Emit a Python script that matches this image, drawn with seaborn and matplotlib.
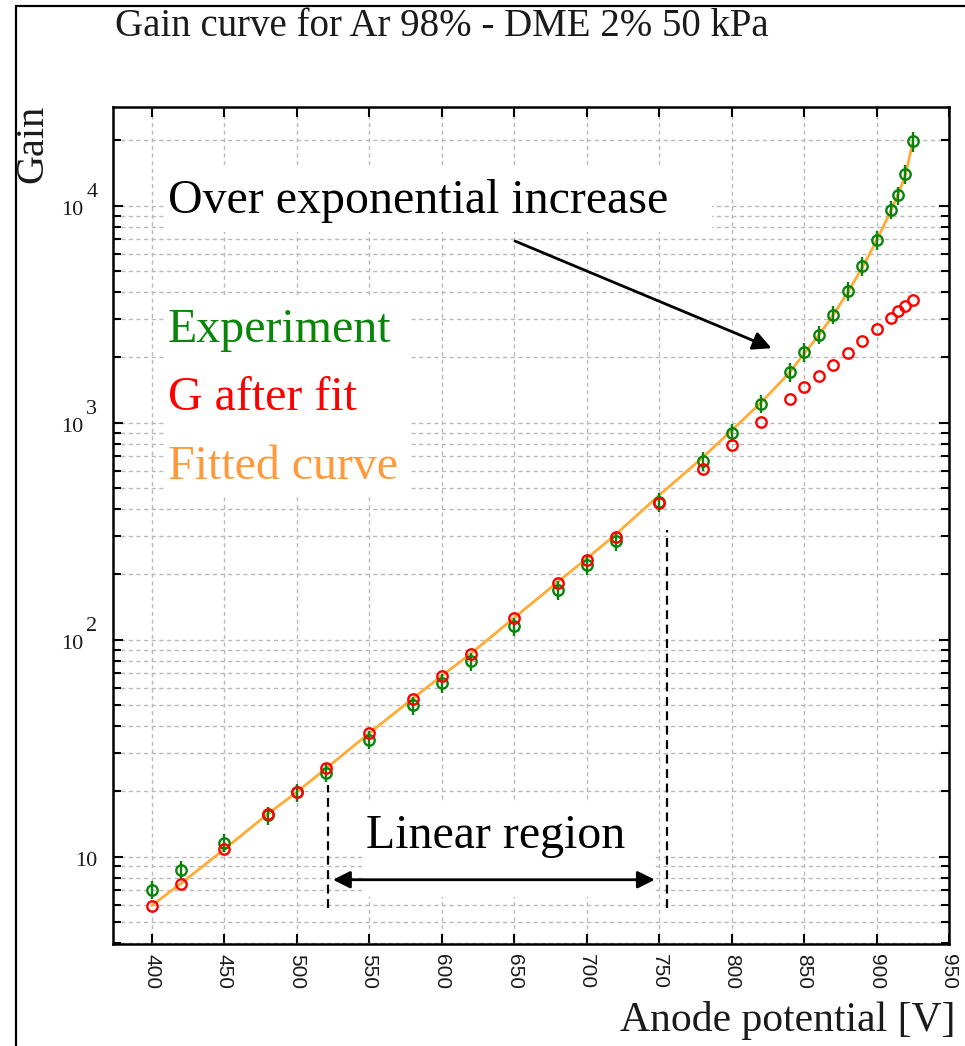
import matplotlib
matplotlib.use("Agg")
import matplotlib.pyplot as plt
from matplotlib.lines import Line2D
from matplotlib.patches import Rectangle
from matplotlib.ticker import MultipleLocator, LogLocator, NullFormatter
import seaborn as sns

# ---- data -------------------------------------------------------------
voltage = [400, 420, 450, 480, 500, 520, 550, 580, 600, 620, 650, 680, 700,
           720, 750, 780, 800, 820, 840, 850, 860, 870, 880, 890, 900, 910,
           915, 920, 925]
gain_exp = [7.05, 8.7, 11.6, 15.5, 19.8, 24.4, 34.6, 49.7, 63.1, 79.4, 115,
            169, 220, 284, 432, 664, 899, 1225, 1706, 2123, 2545, 3150, 4055,
            5250, 6965, 9590, 11150, 14030, 19770]
gain_err = [0.7, 0.85, 1.1, 1.5, 1.9, 2.4, 3.4, 4.9, 6.2, 7.8, 11, 17, 22, 28,
            43, 66, 88, 120, 170, 210, 250, 310, 400, 520, 690, 950, 1100,
            1400, 2000]
gain_corr = [5.9, 7.48, 10.8, 15.7, 19.8, 25.6, 37.2, 53.3, 67.8, 86.1, 126,
             182, 232, 297, 427, 614, 792, 1005, 1285, 1462, 1648, 1849, 2096,
             2382, 2704, 3033, 3258, 3437, 3664]
curve_v = [400, 420, 450, 480, 500, 520, 550, 580, 600, 620, 650, 680, 700,
           720, 750, 780, 800, 820, 840, 850, 860, 870, 880, 890, 900, 910,
           915, 920, 925]
curve_gain = [5.95, 7.5, 10.8, 15.7, 19.8, 25.4, 37.0, 53.5, 68, 86, 126, 184,
              236, 305, 462, 690, 920, 1230, 1700, 2080, 2520, 3120, 3980,
              5150, 6900, 9500, 11300, 13900, 19500]
x_ticks = [400, 450, 500, 550, 600, 650, 700, 750, 800, 850, 900, 950]
y_decades = [1, 2, 3, 4]

GREEN = "#0a840a"
RED = "#ff0000"
ORANGE_LINE = "#ffab35"
ORANGE_TEXT = "#ff9a3c"
GRID = "#b9b9b9"
SERIF = "Liberation Serif"
SANS = "Liberation Sans"

sns.set_theme(style="ticks")
plt.rcParams["font.family"] = [SERIF, "DejaVu Serif"]

fig = plt.figure(figsize=(9.65, 10.46), dpi=100)
ax = fig.add_axes([0.1174, 0.0972, 0.8660, 0.8002])
ax.set_yscale("log")
ax.set_xlim(373.5, 950)
ax.set_ylim(3.94, 28400)

# fitted curve, measurements with errors, corrected gain
sns.lineplot(x=curve_v, y=curve_gain, color=ORANGE_LINE, lw=2.0,
             errorbar=None, ax=ax, zorder=3)
ax.errorbar(voltage, gain_exp, yerr=gain_err, fmt="none", ecolor=GREEN,
            elinewidth=1.7, capsize=0, zorder=4)
sns.lineplot(x=voltage, y=gain_exp, linestyle="", marker="o", ms=7.5,
             mfc="none", mec=GREEN, mew=1.7, errorbar=None, ax=ax, zorder=5)
sns.lineplot(x=voltage, y=gain_corr, linestyle="", marker="o", ms=7.5,
             mfc="none", mec=RED, mew=1.7, errorbar=None, ax=ax, zorder=6)

# ticks and grid
ax.xaxis.set_major_locator(MultipleLocator(50))
ax.yaxis.set_major_locator(LogLocator(base=10, numticks=10))
ax.yaxis.set_minor_locator(LogLocator(base=10, subs=range(2, 10), numticks=20))
ax.yaxis.set_major_formatter(NullFormatter())
ax.yaxis.set_minor_formatter(NullFormatter())
ax.tick_params(which="both", direction="in", top=True, right=True,
               color="black", width=1.5)
ax.tick_params(which="major", length=7)
ax.tick_params(which="minor", length=6)
ax.tick_params(axis="x", which="minor", bottom=False, top=False)
ax.tick_params(axis="x", pad=7, labelsize=15, labelrotation=-90,
               labelcolor="#1a1a1a")
ax.set_xticks(x_ticks)
ax.set_xticklabels([str(t) for t in x_ticks], fontfamily=SANS)
ax.set_axisbelow(True)
ax.grid(True, which="major", axis="x", color=GRID, lw=1.0, ls=(0, (3, 2.5)))
ax.grid(True, which="both", axis="y", color=GRID, lw=1.0, ls=(0, (3, 2.5)))
for side in ["left", "right", "top", "bottom"]:
    ax.spines[side].set_color("black")
    ax.spines[side].set_linewidth(1.8)
ax.spines["bottom"].set_linestyle((0, (2, 1)))
ax.set_xlabel("")
ax.set_ylabel("")

# decade labels on the gain axis: 10, 10^2, 10^3, 10^4
ytf = ax.get_yaxis_transform()
for k in y_decades:
    if k == 1:
        ax.annotate("10", xy=(0, 10 ** k), xycoords=ytf, xytext=(-16, -9),
                    textcoords="offset pixels", ha="right", va="baseline",
                    fontsize=16, color="#1a1a1a", annotation_clip=False)
    else:
        ax.annotate("10", xy=(0, 10 ** k), xycoords=ytf, xytext=(-30, -9),
                    textcoords="offset pixels", ha="right", va="baseline",
                    fontsize=16, color="#1a1a1a", annotation_clip=False)
        ax.annotate(str(k), xy=(0, 10 ** k), xycoords=ytf, xytext=(-16, 9),
                    textcoords="offset pixels", ha="right", va="baseline",
                    fontsize=16, color="#1a1a1a", annotation_clip=False)

# white panels behind the annotation texts
for (x0, y0, w, h) in [(0.0631, 0.851, 0.6533, 0.080),
                       (0.0631, 0.537, 0.2920, 0.235),
                       (0.2988, 0.0565, 0.3458, 0.1123)]:
    ax.add_patch(Rectangle((x0, y0), w, h, transform=ax.transAxes,
                           fc="white", ec="none", zorder=2))

TXT = 34.5
ax.text(411.2, 9250, "Over exponential increase", fontsize=TXT,
        color="black", ha="left", va="baseline", zorder=7)
ax.text(411.2, 2362, "Experiment", fontsize=TXT, color=GREEN,
        ha="left", va="baseline", zorder=7)
ax.text(411.2, 1144, "G after fit", fontsize=TXT, color=RED,
        ha="left", va="baseline", zorder=7)
ax.text(411.2, 548, "Fitted curve", fontsize=TXT, color=ORANGE_TEXT,
        ha="left", va="baseline", zorder=7)
ax.text(547.8, 10.96, "Linear region", fontsize=TXT, color="black",
        ha="left", va="baseline", zorder=7)

# arrows and linear-region bounds
ax.annotate("", xy=(827.6, 2203), xytext=(650.6, 6870),
            arrowprops=dict(arrowstyle="-|>", color="black", lw=2.0,
                            mutation_scale=28, shrinkA=0, shrinkB=0),
            zorder=8)
ax.annotate("", xy=(747.1, 7.82), xytext=(525.0, 7.82),
            arrowprops=dict(arrowstyle="<|-|>", color="black", lw=2.0,
                            mutation_scale=26, shrinkA=0, shrinkB=0),
            zorder=8)
ax.plot([521.6, 521.6], [5.81, 21.4], color="black", lw=1.6,
        ls=(0, (4, 2.5)), zorder=8)
ax.plot([755.2, 755.2], [5.81, 320], color="black", lw=1.6,
        ls=(0, (4, 2.5)), zorder=8)

# titles and axis names
fig.text(115 / 965, 1 - 36 / 1046, "Gain curve for Ar 98% - DME 2% 50 kPa",
         fontsize=28, color="#1a1a1a", ha="left", va="baseline")
fig.text(33 / 965, 1 - 144 / 1046, "Gain", fontsize=29, rotation=90,
         color="#1a1a1a", ha="center", va="center")
fig.text(955 / 965, 1 - 1031 / 1046, "Anode potential [V]", fontsize=30,
         color="#1a1a1a", ha="right", va="baseline")

# page frame
fig.add_artist(Line2D([15.5 / 965, 15.5 / 965], [0, 1 - 6 / 1046],
                      transform=fig.transFigure, color="black", lw=1.6))
fig.add_artist(Line2D([15.5 / 965, 1], [1 - 6 / 1046, 1 - 6 / 1046],
                      transform=fig.transFigure, color="black", lw=1.6))

fig.savefig("out.png", dpi=100, facecolor="white")
